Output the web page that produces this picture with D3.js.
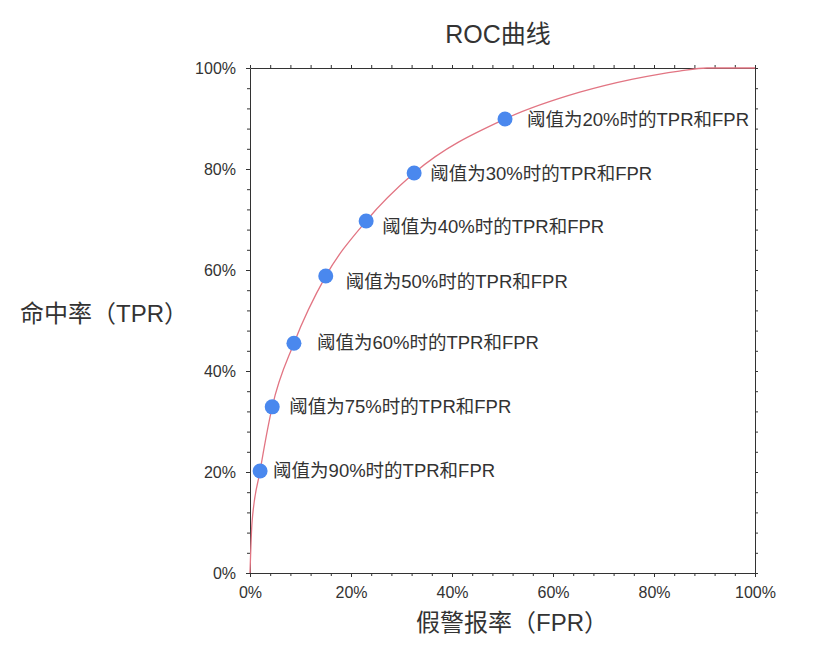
<!DOCTYPE html>
<html>
<head>
<meta charset="utf-8">
<script src="https://cdn.jsdelivr.net/npm/d3@7/dist/d3.min.js"></script>
<style>
  body { margin: 0; background: #fff; }
  svg text { font-family: "Liberation Sans", "Noto Sans CJK SC", sans-serif; fill: #333; }
</style>
</head>
<body>
<svg id="chart" width="834" height="652"></svg>
<script>
// threshold points
var thresholds = ["90%", "75%", "60%", "50%", "40%", "30%", "20%"];
var pointFPR = [0.020, 0.044, 0.087, 0.150, 0.230, 0.325, 0.505];
var pointTPR = [0.202, 0.329, 0.455, 0.588, 0.697, 0.792, 0.899];

// ROC curve
var curveFPR = [0, 0.004, 0.020, 0.044, 0.087, 0.150, 0.230, 0.325, 0.505, 0.653, 0.758, 0.850, 0.905, 1.0];
var curveTPR = [0, 0.100, 0.202, 0.329, 0.455, 0.588, 0.697, 0.792, 0.899, 0.952, 0.978, 0.994, 1.000, 1.0];

var tickValues = [0, 0.2, 0.4, 0.6, 0.8, 1.0];

// label nudges so the text sits where it does in the original
var labelDx = [13, 17, 23, 20, 16, 16, 22];
var labelDy = [6, 6, 6, 12, 12, 7, 7];

var svg = d3.select("#chart");

var x = d3.scaleLinear().domain([0, 1]).range([250, 755]);
var y = d3.scaleLinear().domain([0, 1]).range([573, 68]);

var minorTicks = d3.range(0, 1.0001, 0.04);
var pct = d3.format(".0%");

function drawAxis(gen, transform, withLabels) {
  var g = svg.append("g").attr("transform", transform);
  // minor ticks
  g.call(gen.tickValues(minorTicks).tickSizeInner(3).tickSizeOuter(0).tickFormat(""));
  g.selectAll("path.domain").attr("stroke", "#333");
  g.selectAll(".tick line").attr("stroke", "#333");
  if (withLabels) {
    var lab = svg.append("g").attr("transform", transform);
    lab.call(gen.tickValues(tickValues).tickSizeInner(4).tickSizeOuter(0).tickPadding(10).tickFormat(pct));
    lab.select("path.domain").remove();
    lab.selectAll(".tick line").attr("stroke", "#333");
    lab.selectAll(".tick text").style("font-size", "16px").attr("fill", "#3a3a3a");
  }
}

drawAxis(d3.axisBottom(x), "translate(0,573)", true);
drawAxis(d3.axisLeft(y), "translate(250,0)", true);
drawAxis(d3.axisTop(x), "translate(0,68)", false);
drawAxis(d3.axisRight(y), "translate(755,0)", false);

// curve
var curveData = curveFPR.map(function (f, i) { return [f, curveTPR[i]]; });
var line = d3.line()
  .x(function (d) { return x(d[0]); })
  .y(function (d) { return y(d[1]); })
  .curve(d3.curveMonotoneX);

svg.append("path")
  .datum(curveData)
  .attr("fill", "none")
  .attr("stroke", "#e27583")
  .attr("stroke-width", 1.3)
  .attr("d", line);

// points + labels
var pts = thresholds.map(function (t, i) {
  return { t: t, f: pointFPR[i], r: pointTPR[i], dx: labelDx[i], dy: labelDy[i] };
});

svg.selectAll("circle.pt")
  .data(pts)
  .enter().append("circle")
  .attr("class", "pt")
  .attr("cx", function (d) { return x(d.f); })
  .attr("cy", function (d) { return y(d.r); })
  .attr("r", 7.5)
  .attr("fill", "#4a88ee");

svg.selectAll("text.pt-label")
  .data(pts)
  .enter().append("text")
  .attr("class", "pt-label")
  .attr("x", function (d) { return x(d.f) + d.dx; })
  .attr("y", function (d) { return y(d.r) + d.dy; })
  .style("font-size", "18.5px")
  .text(function (d) { return "阈值为" + d.t + "时的TPR和FPR"; });

// titles
svg.append("text")
  .attr("x", 498).attr("y", 43)
  .attr("text-anchor", "middle")
  .style("font-size", "25px")
  .text("ROC曲线");

svg.append("text")
  .attr("x", 20).attr("y", 322)
  .style("font-size", "24px")
  .text("命中率（TPR）");

svg.append("text")
  .attr("x", 512).attr("y", 631)
  .attr("text-anchor", "middle")
  .style("font-size", "24px")
  .text("假警报率（FPR）");
</script>
</body>
</html>
